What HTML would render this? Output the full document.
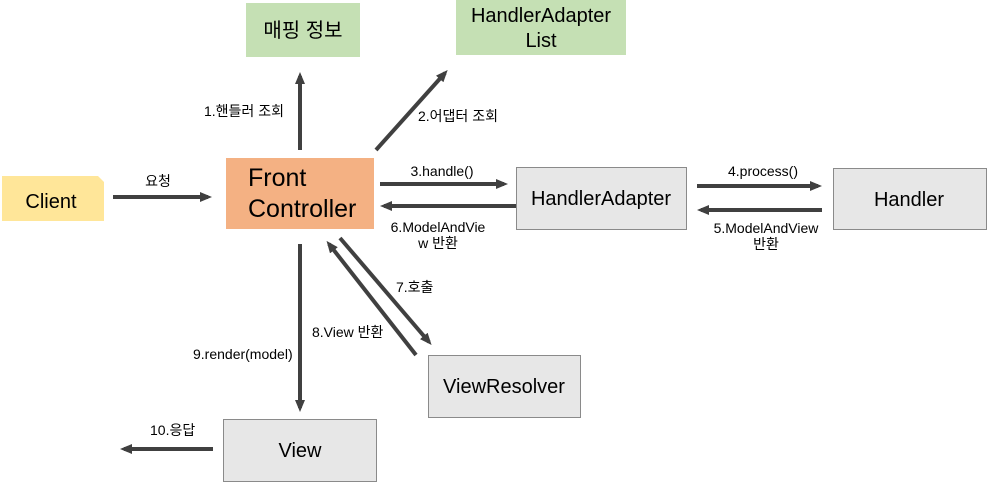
<!DOCTYPE html>
<html><head><meta charset="utf-8"><style>
html,body{margin:0;padding:0;background:#fff;}
svg{display:block;}
text{font-family:"Liberation Sans","Noto Sans CJK KR",sans-serif;fill:#000;}
</style></head><body>
<svg width="994" height="490" viewBox="0 0 994 490" xmlns="http://www.w3.org/2000/svg">
<defs>
<marker id="a" markerWidth="12" markerHeight="10" refX="8" refY="5" orient="auto" markerUnits="userSpaceOnUse">
<path d="M0,0 L12,5 L0,10 z" fill="#404040"/>
</marker>
</defs>
<rect x="246" y="3" width="114" height="54" fill="#c5e0b4"/>
<text x="303" y="37" font-size="20" text-anchor="middle">매핑 정보</text>
<rect x="456" y="0" width="170" height="55" fill="#c5e0b4"/>
<text x="541" y="22" font-size="20" text-anchor="middle">HandlerAdapter</text>
<text x="541" y="47" font-size="20" text-anchor="middle">List</text>
<path d="M2,176 L98,176 L104,182 L104,221 L2,221 z" fill="#ffe699"/>
<text x="51" y="208" font-size="20" text-anchor="middle">Client</text>
<rect x="226" y="158" width="148" height="71" fill="#f4b183"/>
<text x="248" y="186" font-size="25">Front</text>
<text x="248" y="217" font-size="25">Controller</text>
<g fill="#e7e7e7" stroke="#8a8a8a" stroke-width="1">
<rect x="516.5" y="167.5" width="170" height="62"/>
<rect x="833.5" y="168.5" width="153" height="61"/>
<rect x="428.5" y="355.5" width="152" height="62"/>
<rect x="223.5" y="419.5" width="153" height="62"/>
</g>
<text x="601" y="205" font-size="20" text-anchor="middle">HandlerAdapter</text>
<text x="909" y="206" font-size="20" text-anchor="middle">Handler</text>
<text x="504" y="393" font-size="20" text-anchor="middle">ViewResolver</text>
<text x="300" y="457" font-size="20" text-anchor="middle">View</text>
<g stroke="#404040" stroke-width="4" marker-end="url(#a)" fill="none">
<line x1="300" y1="150" x2="300" y2="76"/>
<line x1="376" y1="150" x2="445" y2="73"/>
<line x1="113" y1="197" x2="208" y2="197"/>
<line x1="380" y1="184" x2="504" y2="184"/>
<line x1="516" y1="206" x2="384" y2="206"/>
<line x1="697" y1="186" x2="818" y2="186"/>
<line x1="822" y1="210" x2="701" y2="210"/>
<line x1="340" y1="238" x2="429" y2="342"/>
<line x1="416" y1="355" x2="329" y2="244"/>
<line x1="300" y1="244" x2="300" y2="408"/>
<line x1="213" y1="449" x2="124" y2="449"/>
</g>
<g font-size="14">
<text x="204" y="116">1.핸들러 조회</text>
<text x="418" y="121">2.어댑터 조회</text>
<text x="158" y="186" text-anchor="middle">요청</text>
<text x="442" y="176" text-anchor="middle">3.handle()</text>
<text x="438" y="232" text-anchor="middle">6.ModelAndVie</text>
<text x="438" y="248" text-anchor="middle">w 반환</text>
<text x="763" y="176" text-anchor="middle">4.process()</text>
<text x="766" y="233" text-anchor="middle">5.ModelAndView</text>
<text x="766" y="249" text-anchor="middle">반환</text>
<text x="396" y="292">7.호출</text>
<text x="312" y="337">8.View 반환</text>
<text x="193" y="359">9.render(model)</text>
<text x="150" y="435">10.응답</text>
</g>
</svg>
</body></html>
